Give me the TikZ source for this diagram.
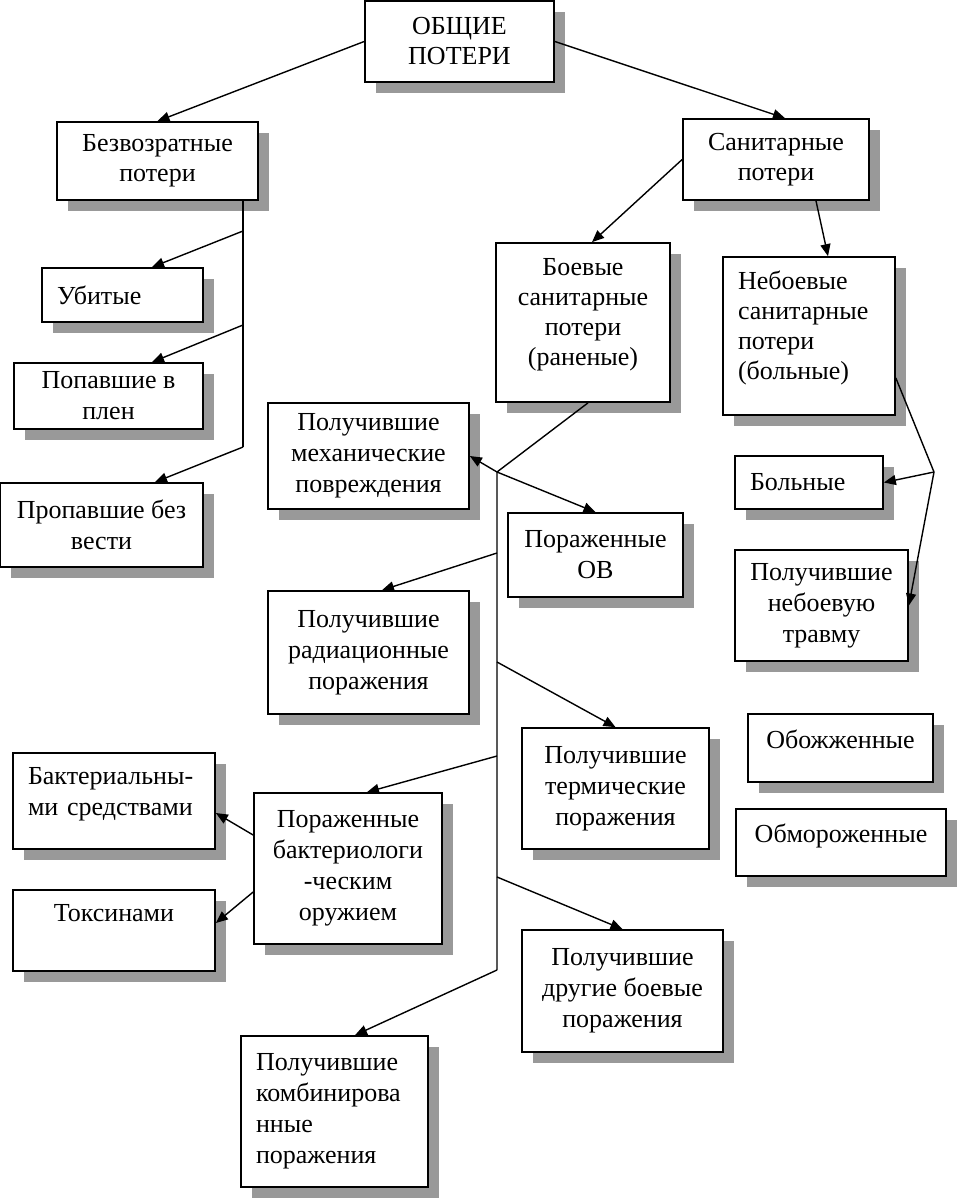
\documentclass[tikz,border=0pt]{standalone}
\usepackage{fontspec}
\setmainfont{Liberation Serif}
\usetikzlibrary{arrows.meta,shadows}

\begin{document}
\begin{tikzpicture}[x=0.5pt, y=-0.5pt,
        box/.style={draw, line width=0.85pt, fill=white, align=center, inner sep=2pt,
            font=\fontsize{13}{15}\selectfont,
            drop shadow={shadow xshift=5.5pt, shadow yshift=-5.5pt, opacity=1, fill=black!40}},
        lbox/.style={box, align=left, inner xsep=7.5pt, text width=#1},
        wide/.style={font=\fontsize{13}{15.5}\selectfont},
        arr/.style={-{Triangle[length=6pt, width=5pt]}, line width=0.7pt},
        link/.style={line width=0.7pt}]
        \useasboundingbox (0,0) rectangle (957,1200);

        \node[box, minimum width=94.5pt, minimum height=40.5pt] (obshie) at (459.5,41.5) {ОБЩИЕ\\ПОТЕРИ};
        \node[box, minimum width=100.5pt, minimum height=39pt] (bezvoz) at (157.5,161) {Безвозратные\\потери};
        \node[box, minimum width=93pt, minimum height=40.5pt] (sanit) at (776,159.5) {Санитарные\\потери};
        \node[lbox=65.5pt, wide, minimum height=27pt] (ubit) at (122.5,295) {Убитые};
        \node[box, wide, minimum width=94.5pt, minimum height=33pt] (popav) at (108.5,396) {Попавшие в\\плен};
        \node[box, wide, minimum width=101.5pt, minimum height=42pt] (propav) at (101.5,525) {Пропавшие без\\вести};
        \node[box, minimum width=87pt, minimum height=79.5pt] (boev) at (583,322.5) {Боевые\\санитарные\\потери\\(раненые)\\[-4pt]~};
        \node[lbox=71pt, minimum height=79pt] (neboev) at (809,336) {Небоевые\\санитарные\\потери\\(больные)\\[-4pt]~};
        \node[box, wide, minimum width=100.5pt, minimum height=53pt] (mekh) at (368.5,456) {Получившие\\механические\\повреждения};
        \node[box, wide, minimum width=87.5pt, minimum height=42pt] (ov) at (595.5,555) {Пораженные\\ОВ};
        \node[lbox=59pt, wide, minimum height=26.5pt] (bolnye) at (809,482.5) {Больные};
        \node[box, wide, minimum width=86.5pt, minimum height=55.5pt] (travma) at (821.5,605.5) {Получившие\\небоевую\\травму};
        \node[box, wide, minimum width=100.5pt, minimum height=61.5pt] (radiac) at (368.5,652.5) {Получившие\\радиационные\\поражения};
        \node[box, wide, minimum width=93.5pt, minimum height=60.5pt] (termic) at (615.5,788.5) {Получившие\\термические\\поражения};
        \node[box, minimum width=92.5pt, minimum height=34pt] (obozh) at (840.5,748) {Обожженные\\[-6pt]~};
        \node[box, minimum width=105pt, minimum height=33.5pt] (obmoroz) at (841,842.5) {Обмороженные\\[-6pt]~};
        \node[lbox=86pt, wide, minimum height=48pt] (bakter) at (114,801) {Бактериальны-\\ми средствами\\[-6pt]~};
        \node[box, wide, minimum width=94pt, minimum height=75.5pt] (bakteriolog) at (348,868.5) {Пораженные\\бактериологи\\-ческим\\оружием};
        \node[box, wide, minimum width=101pt, minimum height=40.5pt] (toksin) at (114,930.5) {Токсинами\\[2pt]~};
        \node[box, wide, minimum width=100.5pt, minimum height=61pt] (drugie) at (622.5,991) {Получившие\\другие боевые\\поражения};
        \node[lbox=78.5pt, wide, minimum height=75.5pt] (kombin) at (334.5,1111.5) {Получившие\\комбинирова\\нные\\поражения};

        \coordinate (bz1) at (243,231);
        \coordinate (bz2) at (243,325);
        \coordinate (bz3) at (243,447);
        \coordinate (nb) at (934,472);
        \coordinate (j) at (497,472);
        \coordinate (t1) at (497,553);
        \coordinate (t2) at (497,662);
        \coordinate (t3) at (497,756);
        \coordinate (t4) at (497,877);
        \coordinate (t5) at (497,970);

        \draw[arr] (obshie.west) -- (bezvoz.north);
        \draw[arr] (obshie.east) -- ([xshift=4.5pt]sanit.north);
        \draw[arr] (sanit.west) -- ([xshift=4.5pt]boev.north);
        \draw[arr] ([xshift=20pt]sanit.south) -- ([xshift=9.5pt]neboev.north);
        \draw[link] (bezvoz.south -| bz1) -- (bz3);
        \draw[arr] (bz1) -- ([xshift=14.75pt]ubit.north);
        \draw[arr] (bz2) -- ([xshift=21.75pt]popav.north);
        \draw[arr] (bz3) -- ([xshift=26.75pt]propav.north);
        \draw[link] ([yshift=-21pt]neboev.east) -- (nb);
        \draw[arr] (nb) -- (bolnye.east);
        \draw[arr] (nb) -- (travma.east);
        \draw[link] ([xshift=2.5pt]boev.south) -- (j) -- (t5);
        \draw[arr] (j) -- (mekh.east);
        \draw[arr] (j) -- (ov.north);
        \draw[arr] (t1) -- ([xshift=6.75pt]radiac.north);
        \draw[arr] (t2) -- (termic.north);
        \draw[arr] (t3) -- ([xshift=9.5pt]bakteriolog.north);
        \draw[arr] (t4) -- (drugie.north);
        \draw[arr] (t5) -- ([xshift=10.25pt]kombin.north);
        \draw[arr] ([yshift=16.75pt]bakteriolog.west) -- ([yshift=-6pt]bakter.east);
        \draw[arr] ([yshift=-11.75pt]bakteriolog.west) -- ([yshift=3.75pt]toksin.east);
\end{tikzpicture}
\end{document}
